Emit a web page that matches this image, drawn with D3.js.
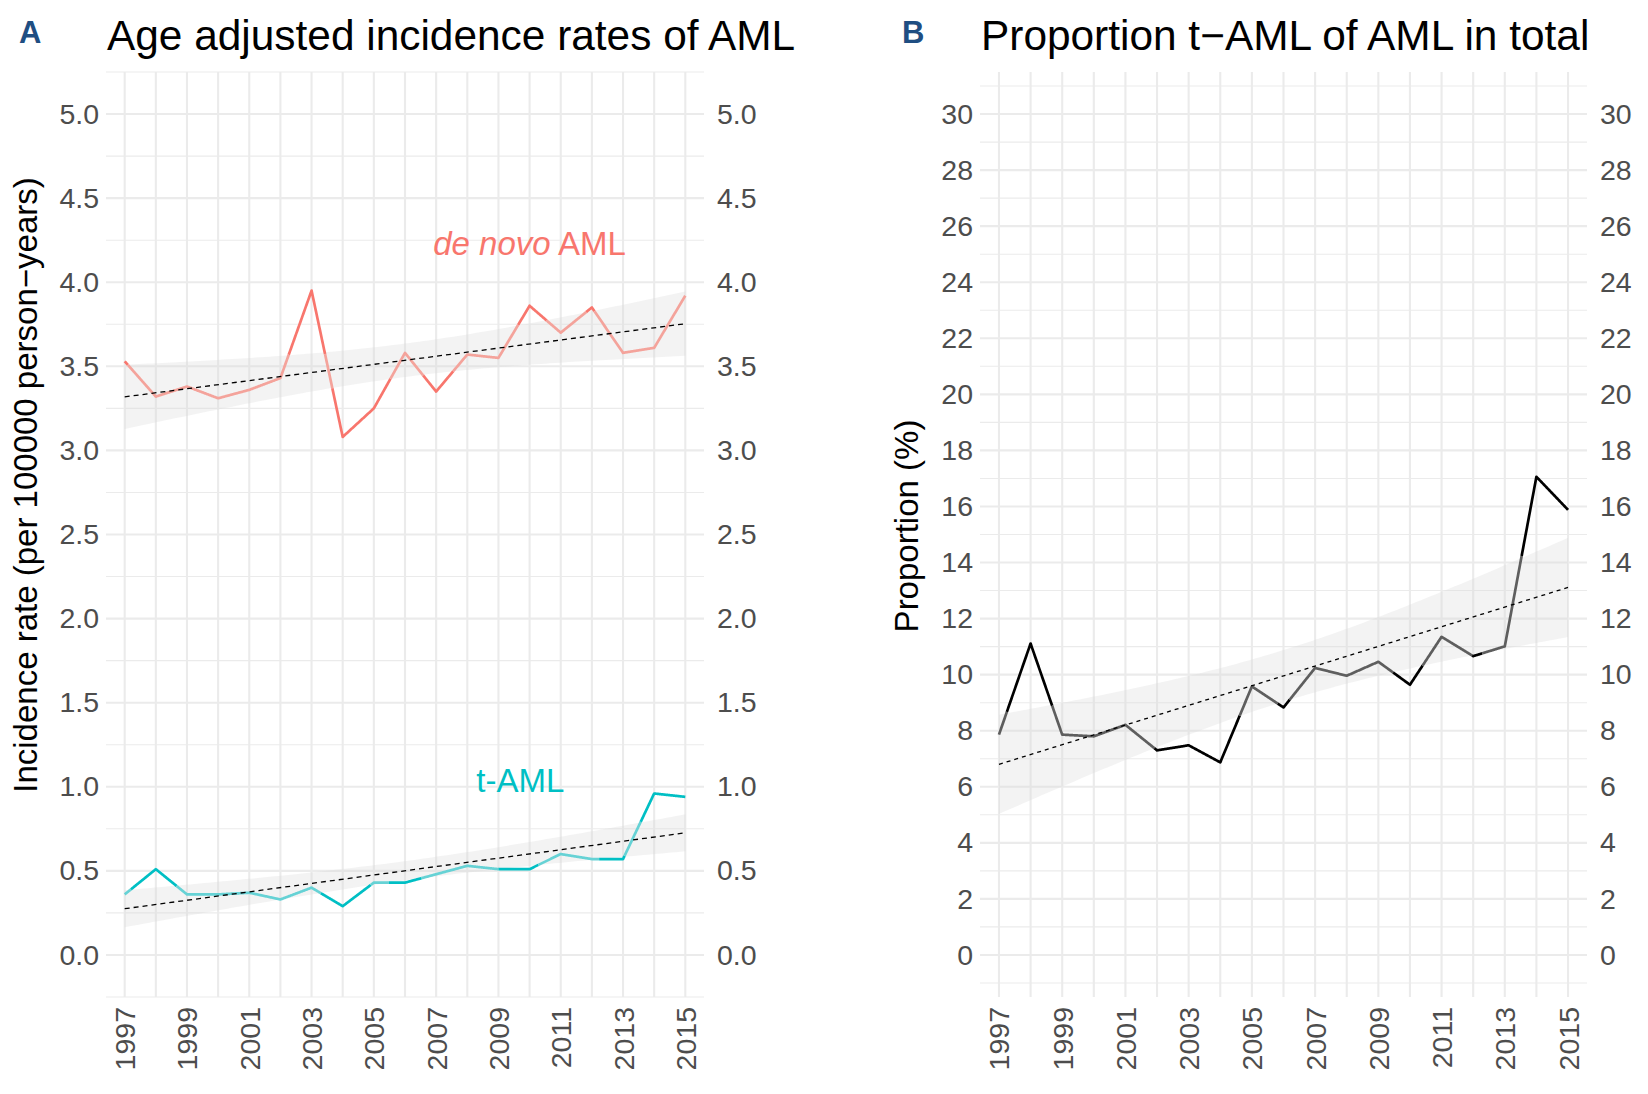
<!DOCTYPE html>
<html>
<head>
<meta charset="utf-8">
<script src="https://cdn.jsdelivr.net/npm/d3@7"></script>
<style>
  body { margin: 0; background: #fff; }
  text { font-family: "Liberation Sans", Arial, Helvetica, sans-serif; }
</style>
</head>
<body>
<svg id="fig" width="1648" height="1094"></svg>
<script>
// data
const years = [1997, 1998, 1999, 2000, 2001, 2002, 2003, 2004, 2005, 2006,
               2007, 2008, 2009, 2010, 2011, 2012, 2013, 2014, 2015];
const labelYears = [1997, 1999, 2001, 2003, 2005, 2007, 2009, 2011, 2013, 2015];

const deNovoRate = [3.53, 3.32, 3.38, 3.31, 3.36, 3.43, 3.95, 3.08, 3.25, 3.58,
                    3.35, 3.57, 3.55, 3.86, 3.70, 3.85, 3.58, 3.61, 3.92];
const tAmlRate = [0.36, 0.51, 0.36, 0.36, 0.37, 0.33, 0.40, 0.29, 0.43, 0.43,
                  0.48, 0.53, 0.51, 0.51, 0.60, 0.57, 0.57, 0.96, 0.94];
const tAmlProportion = [7.86, 11.11, 7.86, 7.80, 8.21, 7.30, 7.48, 6.87, 9.58, 8.83,
                        10.24, 9.96, 10.46, 9.64, 11.35, 10.66, 11.01, 17.06, 15.88];

const rateTicks = [0, 0.5, 1, 1.5, 2, 2.5, 3, 3.5, 4, 4.5, 5];
const proportionTicks = [0, 2, 4, 6, 8, 10, 12, 14, 16, 18, 20, 22, 24, 26, 28, 30];

const svg = d3.select("#fig");
const panelTop = 72, panelBottom = 997;
const gridColor = "#EBEBEB";
const tickColor = "#4D4D4D";

// lm fit with 95% confidence band, like geom_smooth(method = "lm")
function linearFit(xs, ys) {
    const n = xs.length, mx = d3.mean(xs), my = d3.mean(ys);
    let sxx = 0, sxy = 0;
    xs.forEach((x, i) => { sxx += (x - mx) ** 2; sxy += (x - mx) * (ys[i] - my); });
    const b = sxy / sxx, a = my - b * mx;
    let sse = 0;
    xs.forEach((x, i) => { const r = ys[i] - (a + b * x); sse += r * r; });
    const s = Math.sqrt(sse / (n - 2));
    const tq = 2.1098; // qt(0.975, 17)
    return {
        fit: x => a + b * x,
        half: x => tq * s * Math.sqrt(1 / n + (x - mx) ** 2 / sxx)
    };
}

function drawPanel(cfg) {
    const x = d3.scaleLinear().domain([years[0] - 0.6, years[years.length - 1] + 0.6])
        .range([cfg.left, cfg.right]);
    const y = d3.scaleLinear().domain(cfg.yDomain).range([panelBottom, panelTop]);
    const g = svg.append("g");

    // grid
    const step = cfg.ticks[1] - cfg.ticks[0];
    const minor = cfg.ticks.map(t => t - step / 2).concat([cfg.ticks[cfg.ticks.length - 1] + step / 2]);
    g.selectAll(".minor").data(minor).enter().append("line")
        .attr("x1", cfg.left).attr("x2", cfg.right)
        .attr("y1", d => y(d)).attr("y2", d => y(d))
        .attr("stroke", gridColor).attr("stroke-width", 1.1);
    g.selectAll(".major").data(cfg.ticks).enter().append("line")
        .attr("x1", cfg.left).attr("x2", cfg.right)
        .attr("y1", d => y(d)).attr("y2", d => y(d))
        .attr("stroke", gridColor).attr("stroke-width", 2.1);
    g.selectAll(".vgrid").data(years).enter().append("line")
        .attr("x1", d => x(d)).attr("x2", d => x(d))
        .attr("y1", panelTop).attr("y2", panelBottom)
        .attr("stroke", gridColor).attr("stroke-width", 2.1);

    // axes
    const fmt = cfg.format;
    const left = g.append("g").attr("transform", `translate(${cfg.left},0)`)
        .call(d3.axisLeft(y).tickValues(cfg.ticks).tickSize(0).tickPadding(7).tickFormat(fmt));
    const right = g.append("g").attr("transform", `translate(${cfg.right},0)`)
        .call(d3.axisRight(y).tickValues(cfg.ticks).tickSize(0).tickPadding(13).tickFormat(fmt));
    const bottomAxis = g.append("g").attr("transform", `translate(0,${panelBottom})`)
        .call(d3.axisBottom(x).tickValues(labelYears).tickSize(0).tickFormat(d3.format("d")));
    bottomAxis.selectAll("text")
        .attr("transform", "rotate(-90)")
        .attr("x", -10).attr("y", 0).attr("dy", "0.35em")
        .attr("text-anchor", "end");
    [left, right, bottomAxis].forEach(a => {
        a.select(".domain").remove();
        a.selectAll("text").attr("fill", tickColor).attr("font-size", 28.5)
            .style("font-family", "'Liberation Sans', Arial, sans-serif");
    });

    // series: ribbon, line, trend
    cfg.series.forEach(s => {
        const lm = linearFit(years, s.values);
        const xs = d3.range(0, 121).map(i => years[0] + (years[years.length - 1] - years[0]) * i / 120);
        g.append("path")
            .datum(xs)
            .attr("d", d3.area().x(d => x(d))
                .y0(d => y(lm.fit(d) - lm.half(d)))
                .y1(d => y(lm.fit(d) + lm.half(d))))
            .attr("fill", "#D6D6D6").attr("fill-opacity", 0.3);

        // colour the line by whether it sits inside the confidence band
        const pts = [];
        const sub = 60;
        for (let i = 0; i < years.length - 1; i++) {
            for (let k = 0; k < sub; k++) {
                const t = k / sub;
                pts.push([years[i] + t, s.values[i] + (s.values[i + 1] - s.values[i]) * t]);
            }
        }
        pts.push([years[years.length - 1], s.values[s.values.length - 1]]);
        const inside = p => Math.abs(p[1] - lm.fit(p[0])) <= lm.half(p[0]);
        const runs = [];
        let cur = [pts[0]], state = inside(pts[0]);
        for (let i = 1; i < pts.length; i++) {
            const st = inside(pts[i]);
            cur.push(pts[i]);
            if (st !== state) {
                runs.push({ state, pts: cur });
                cur = [pts[i]];
                state = st;
            }
        }
        runs.push({ state, pts: cur });
        const line = d3.line().x(d => x(d[0])).y(d => y(d[1]));
        runs.forEach(r => {
            g.append("path").attr("d", line(r.pts))
                .attr("fill", "none")
                .attr("stroke", r.state ? s.light : s.full)
                .attr("stroke-width", 2.7)
                .attr("stroke-linejoin", "round");
        });

        g.append("line")
            .attr("x1", x(years[0])).attr("x2", x(years[years.length - 1]))
            .attr("y1", y(lm.fit(years[0]))).attr("y2", y(lm.fit(years[years.length - 1])))
            .attr("stroke", "#000").attr("stroke-width", 1.3)
            .attr("stroke-dasharray", cfg.dash);

        if (s.label) {
            const txt = g.append("text")
                .attr("x", x(s.label.x)).attr("y", y(s.label.y)).attr("dy", "0.35em")
                .attr("text-anchor", "middle").attr("font-size", 33).attr("fill", s.full);
            s.label.parts.forEach(p => txt.append("tspan").attr("font-style", p.italic ? "italic" : "normal").text(p.text));
        }
    });

    // titles
    svg.append("text").attr("x", cfg.tagX).attr("y", 43)
        .attr("font-size", 31).attr("font-weight", "bold").attr("fill", "#1F4E82").text(cfg.tag);
    svg.append("text").attr("x", cfg.left + 1).attr("y", 50)
        .attr("font-size", 42.4).attr("fill", "#000").text(cfg.title);
    svg.append("text")
        .attr("transform", `translate(${cfg.yLabelX},${cfg.yLabelY}) rotate(-90)`)
        .attr("text-anchor", "middle").attr("dy", "0.35em")
        .attr("font-size", 33).attr("fill", "#000").text(cfg.yLabel);
}

drawPanel({
    left: 106, right: 704,
    yDomain: [-0.25, 5.25], ticks: rateTicks, format: d3.format(".1f"),
    dash: "5,4",
    tag: "A", tagX: 19,
    title: "Age adjusted incidence rates of AML",
    yLabel: "Incidence rate (per 100000 person\u2212years)", yLabelX: 25, yLabelY: 485,
    series: [
        { values: deNovoRate, full: "#F8766D", light: "#F4A39B",
          label: { x: 2010, y: 4.23, parts: [{ text: "de novo", italic: true }, { text: " AML" }] } },
        { values: tAmlRate, full: "#00BFC4", light: "#66D2D5",
          label: { x: 2009.7, y: 1.04, parts: [{ text: "t-AML" }] } }
    ]
});

drawPanel({
    left: 980, right: 1587,
    yDomain: [-1.5, 31.5], ticks: proportionTicks, format: d3.format("d"),
    dash: "4,4",
    tag: "B", tagX: 902,
    title: "Proportion t\u2212AML of AML in total",
    yLabel: "Proportion (%)", yLabelX: 906, yLabelY: 526,
    series: [
        { values: tAmlProportion, full: "#000000", light: "#5E5E5E" }
    ]
});
</script>
</body>
</html>
